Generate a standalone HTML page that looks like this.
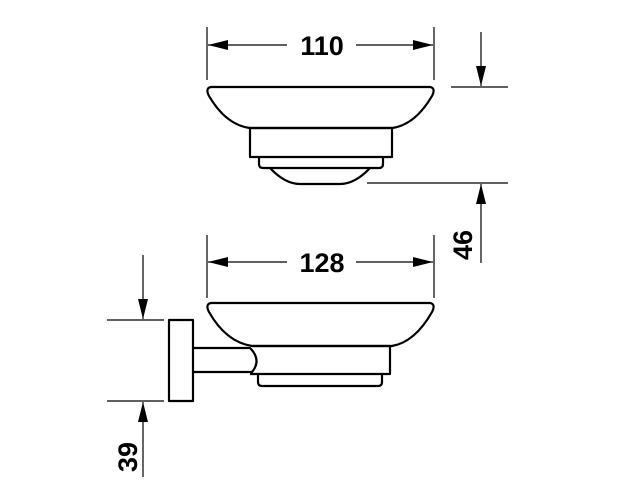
<!DOCTYPE html>
<html><head><style>
html,body{margin:0;padding:0;background:#fff;width:624px;height:491px;overflow:hidden}
</style></head><body>
<svg width="624" height="491" viewBox="0 0 624 491" xmlns="http://www.w3.org/2000/svg">
<defs>
<marker id="a" viewBox="0 0 20 10" refX="20" refY="5" markerWidth="20" markerHeight="10" markerUnits="userSpaceOnUse" orient="auto"><path d="M0,0 L20,5 L0,10 Z" fill="#000"/></marker>
</defs>
<g stroke="#000" fill="none" stroke-width="1.2">
<!-- top dims -->
<line x1="207" y1="27" x2="207" y2="80"/>
<line x1="434" y1="27" x2="434" y2="80"/>
<line x1="287" y1="45" x2="208" y2="45" marker-end="url(#a)"/>
<line x1="356" y1="45" x2="433" y2="45" marker-end="url(#a)"/>
<line x1="451" y1="87" x2="508" y2="87"/>
<line x1="481" y1="32" x2="481" y2="86" marker-end="url(#a)"/>
<line x1="367" y1="183" x2="508" y2="183"/>
<line x1="481" y1="263" x2="481" y2="184" marker-end="url(#a)"/>
<!-- bottom dims -->
<line x1="207" y1="235" x2="207" y2="298"/>
<line x1="434" y1="235" x2="434" y2="298"/>
<line x1="287" y1="262" x2="208" y2="262" marker-end="url(#a)"/>
<line x1="356" y1="262" x2="433" y2="262" marker-end="url(#a)"/>
<line x1="107" y1="320" x2="164" y2="320"/>
<line x1="107" y1="401" x2="164" y2="401"/>
<line x1="143" y1="255" x2="143" y2="319" marker-end="url(#a)"/>
<line x1="143" y1="477" x2="143" y2="402" marker-end="url(#a)"/>
</g>
<g stroke="#000" fill="none" stroke-width="2.2" stroke-linejoin="round">
<!-- top dish -->
<path d="M211,87 L430,87 Q436,88 432,96 Q415,125 392,128 L250,128 Q226,125 209,96 Q205,88 211,87 Z"/>
<rect x="250" y="128" width="142" height="29"/>
<path d="M259,157 L259,164 Q259,168 263,168 L379,168 Q383,168 383,164 L383,157"/>
<path d="M270,168 Q285,184 300,184 L340,184 Q355,184 370,168"/>
<!-- bottom dish -->
<path d="M211,303 L430,303 Q436,304 432,312 Q415,342 392,346 L252,346 Q226,342 209,312 Q205,304 211,303 Z"/>
<rect x="169" y="320" width="24" height="81"/>
<path d="M193,348 L250,348 Q262,360 252,372 L193,372"/>
<path d="M252,346 L390,346 L390,374 L250,374"/>
<path d="M258,374 L258,382 Q258,386 262,386 L378,386 Q382,386 382,382 L382,374"/>
</g>
<g font-family="Liberation Sans, sans-serif" font-weight="bold" font-size="27" fill="#000" text-anchor="middle">
<text x="322" y="55">110</text>
<text x="322" y="272">128</text>
<text transform="translate(472,245) rotate(-90)">46</text>
<text transform="translate(137,457) rotate(-90)">39</text>
</g>
</svg>
</body></html>
